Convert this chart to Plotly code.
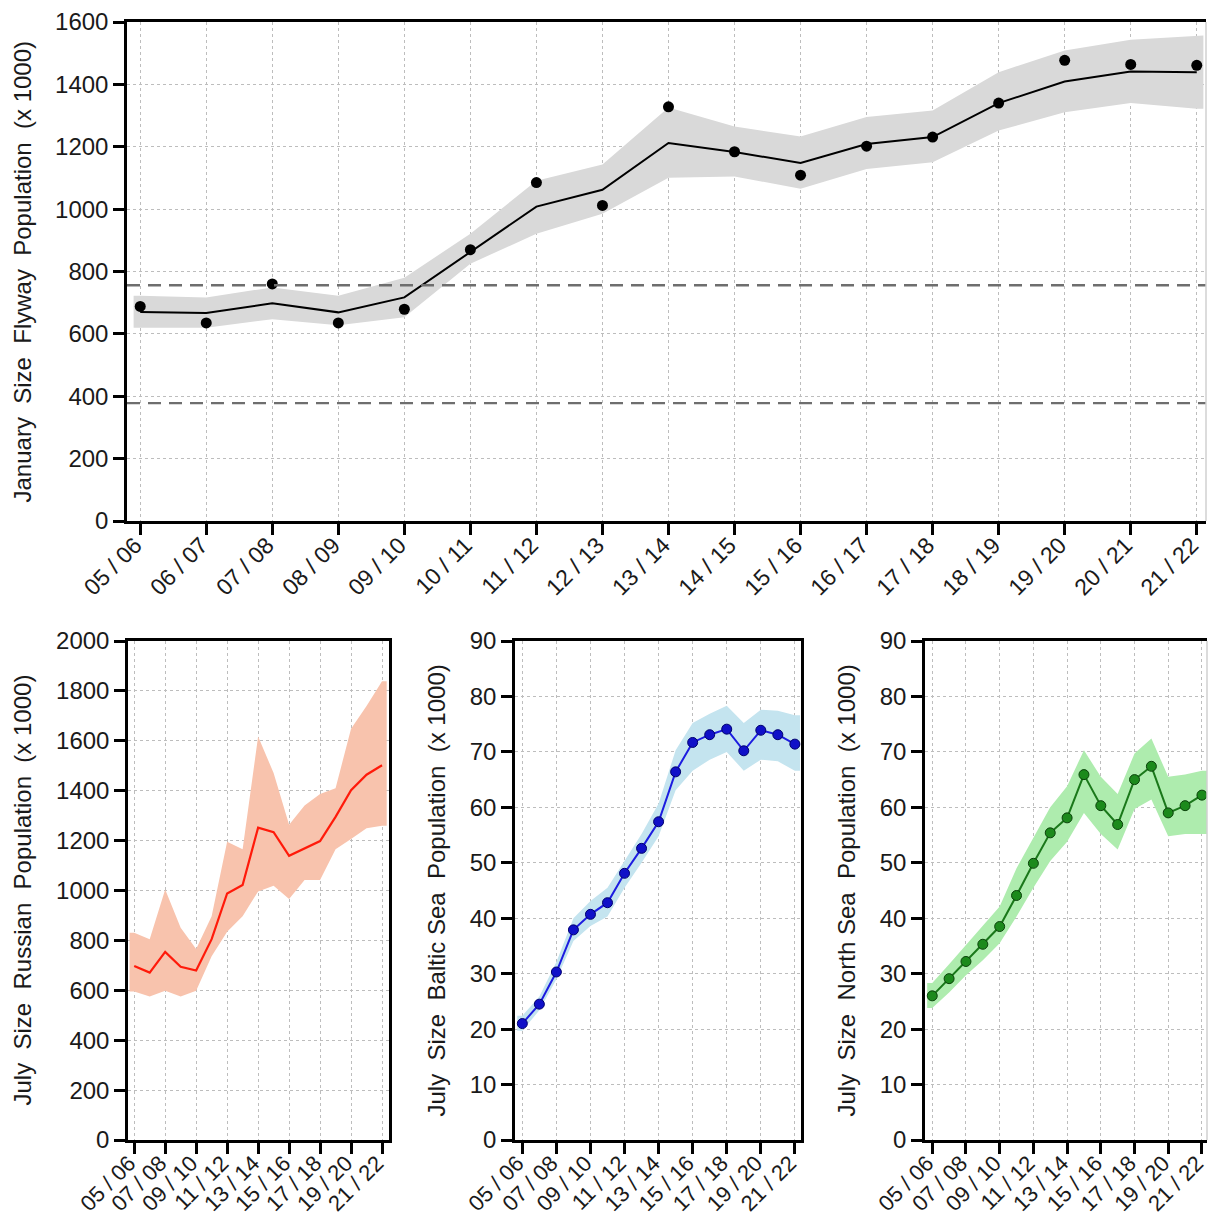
import plotly.graph_objects as go

# ---- data -------------------------------------------------------------
seasons = ["05 / 06", "06 / 07", "07 / 08", "08 / 09", "09 / 10", "10 / 11",
           "11 / 12", "12 / 13", "13 / 14", "14 / 15", "15 / 16", "16 / 17",
           "17 / 18", "18 / 19", "19 / 20", "20 / 21", "21 / 22"]

# January flyway population (x 1000)
jan_counts = [688, 635, 760, 635, 679, 870, 1085, 1012, 1328, 1184, 1109,
              1202, 1231, 1340, 1477, 1464, 1461]
jan_model = [670, 667, 698, 669, 717, 862, 1008, 1062, 1212, 1183, 1148,
             1209, 1231, 1340, 1409, 1441, 1439]
jan_lower = [620, 620, 647, 628, 653, 825, 921, 985, 1101, 1105, 1065,
             1129, 1150, 1252, 1311, 1340, 1322]
jan_upper = [722, 717, 749, 722, 780, 921, 1091, 1143, 1326, 1265, 1233,
             1295, 1316, 1439, 1509, 1543, 1557]
jan_reference_levels = [756, 378]

# July Russian population (x 1000)
rus_model = [697, 671, 754, 694, 679, 805, 988, 1022, 1252, 1234, 1139,
             1169, 1198, 1295, 1402, 1464, 1502]
rus_lower = [595, 575, 598, 575, 598, 736, 835, 897, 996, 1019, 966,
             1042, 1042, 1165, 1206, 1249, 1260]
rus_upper = [831, 805, 1004, 851, 766, 897, 1195, 1165, 1617, 1471, 1264,
             1341, 1387, 1410, 1648, 1739, 1839]

# July Baltic Sea population (x 1000)
bal_counts = [21.0, 24.5, 30.3, 37.9, 40.7, 42.8, 48.1, 52.6, 57.4, 66.4,
              71.7, 73.1, 74.1, 70.2, 73.9, 73.1, 71.4]
bal_lower = [19.7, 23.4, 29.0, 35.9, 38.6, 40.3, 45.5, 50.0, 54.8, 63.1,
             66.6, 68.6, 70.0, 66.6, 68.6, 68.3, 66.6]
bal_upper = [22.4, 25.9, 32.1, 40.0, 43.1, 45.5, 50.3, 55.2, 60.7, 70.3,
             75.2, 76.9, 78.3, 75.2, 77.6, 77.4, 76.6]

# July North Sea population (x 1000)
ns_counts = [26.0, 29.1, 32.2, 35.3, 38.5, 44.1, 49.9, 55.4, 58.1, 65.9,
             60.3, 56.9, 65.0, 67.4, 59.0, 60.3, 62.2]
ns_lower = [23.8, 26.6, 29.7, 32.4, 35.5, 40.3, 45.5, 50.3, 53.8, 59.0,
            55.2, 52.4, 59.7, 61.4, 54.8, 55.2, 55.2]
ns_upper = [28.3, 31.7, 35.2, 38.6, 42.1, 49.0, 54.5, 60.0, 63.8, 70.3,
            65.5, 62.4, 69.7, 72.4, 65.5, 65.9, 66.6]

# ---- helpers ----------------------------------------------------------
W, H = 1216, 1220
FONT = "Liberation Sans, Arial, sans-serif"
TXT = "#1a1a1a"
idx = list(range(len(seasons)))


def band(lower, upper, pad):
    """Closed polygon for a confidence ribbon, stretched slightly past the ends."""
    bx = [idx[0] - pad] + idx + [idx[-1] + pad]
    up = [upper[0]] + upper + [upper[-1]]
    lo = [lower[0]] + lower + [lower[-1]]
    return bx + bx[::-1], up + lo[::-1]


def px_x(p):
    return p / W


def px_y(p):
    return 1 - p / H


fig = go.Figure()

# ---- top panel: January flyway ---------------------------------------
bx, by = band(jan_lower, jan_upper, 0.1)
fig.add_trace(go.Scatter(x=bx, y=by, fill="toself", fillcolor="#d9d9d9",
                         line=dict(width=0), mode="lines", hoverinfo="skip",
                         xaxis="x", yaxis="y", showlegend=False))
for lvl in jan_reference_levels:
    fig.add_shape(type="line", xref="x domain", yref="y", x0=0, x1=1,
                  y0=lvl, y1=lvl,
                  line=dict(color="#6e6e6e", width=2.4, dash="13px,8px"))
fig.add_trace(go.Scatter(x=idx, y=jan_model, mode="lines",
                         line=dict(color="black", width=2),
                         xaxis="x", yaxis="y", showlegend=False))
fig.add_trace(go.Scatter(x=idx, y=jan_counts, mode="markers",
                         marker=dict(color="black", size=11),
                         xaxis="x", yaxis="y", showlegend=False))

# ---- bottom-left: Russian ---------------------------------------------
bx, by = band(rus_lower, rus_upper, 0.3)
fig.add_trace(go.Scatter(x=bx, y=by, fill="toself", fillcolor="#f8c3ad",
                         line=dict(width=0), mode="lines", hoverinfo="skip",
                         xaxis="x2", yaxis="y2", showlegend=False))
fig.add_trace(go.Scatter(x=idx, y=rus_model, mode="lines",
                         line=dict(color="#ff1a0a", width=2.2),
                         xaxis="x2", yaxis="y2", showlegend=False))

# ---- bottom-middle: Baltic Sea ----------------------------------------
bx, by = band(bal_lower, bal_upper, 0.3)
fig.add_trace(go.Scatter(x=bx, y=by, fill="toself", fillcolor="#c4e4ef",
                         line=dict(width=0), mode="lines", hoverinfo="skip",
                         xaxis="x3", yaxis="y3", showlegend=False))
fig.add_trace(go.Scatter(x=idx, y=bal_counts, mode="lines+markers",
                         line=dict(color="#1c1ce0", width=2),
                         marker=dict(color="#1010c8", size=10,
                                     line=dict(color="#00006e", width=1)),
                         xaxis="x3", yaxis="y3", showlegend=False))

# ---- bottom-right: North Sea ------------------------------------------
bx, by = band(ns_lower, ns_upper, 0.3)
fig.add_trace(go.Scatter(x=bx, y=by, fill="toself", fillcolor="#aeecae",
                         line=dict(width=0), mode="lines", hoverinfo="skip",
                         xaxis="x4", yaxis="y4", showlegend=False))
fig.add_trace(go.Scatter(x=idx, y=ns_counts, mode="lines+markers",
                         line=dict(color="#1a781a", width=2),
                         marker=dict(color="#1c8a1c", size=10,
                                     line=dict(color="#0a420a", width=1)),
                         xaxis="x4", yaxis="y4", showlegend=False))

# ---- axes ---------------------------------------------------------------
grid = dict(showgrid=True, gridcolor="#bdbdbd", gridwidth=1, griddash="dot",
            zeroline=False, showline=True, linecolor="black", linewidth=2.5,
            ticks="outside", ticklen=11, tickwidth=2.5, tickcolor="black",
            automargin=False,
            tickfont=dict(family=FONT, size=24, color=TXT))


def xaxis(domain, rng, step, mirror, anchor, size):
    d = dict(grid)
    d.update(domain=domain, range=rng, anchor=anchor,
             tickvals=idx[::step], ticktext=seasons[::step], tickangle=-45,
             mirror=mirror, ticklabelstandoff=-12, ticklabelshift=-5)
    d["tickfont"] = dict(family=FONT, size=size, color=TXT)
    return d


def yaxis(domain, rng, dtick, mirror, anchor):
    d = dict(grid)
    d.update(domain=domain, range=rng, dtick=dtick, anchor=anchor,
             mirror=mirror)
    return d


top_y = [px_y(521), px_y(22)]
bot_y = [px_y(1140), px_y(641)]

fig.update_layout(
    width=W, height=H, margin=dict(l=0, r=0, t=0, b=0),
    paper_bgcolor="white", plot_bgcolor="white",
    font=dict(family=FONT, color=TXT),
    xaxis=xaxis([px_x(127), px_x(1206)], [-0.2, 16.14], 1, True, "y", 23),
    yaxis=yaxis(top_y, [0, 1600], 200, False, "x"),
    xaxis2=xaxis([px_x(128), px_x(389)], [-0.4, 16.45], 2, True, "y2", 22),
    yaxis2=yaxis(bot_y, [0, 2000], 200, True, "x2"),
    xaxis3=xaxis([px_x(515), px_x(801)], [-0.43, 16.36], 2, True, "y3", 22),
    yaxis3=yaxis(bot_y, [0, 90], 10, True, "x3"),
    xaxis4=xaxis([px_x(925), px_x(1207)], [-0.43, 16.3], 2, True, "y4", 22),
    yaxis4=yaxis(bot_y, [0, 90], 10, False, "x4"),
)

# light right-hand frame edge on the top and North Sea panels
for xr, yr in (("x", "y"), ("x4", "y4")):
    fig.add_shape(type="line", xref=f"{xr} domain", yref=f"{yr} domain",
                  x0=1, x1=1, y0=0, y1=1,
                  line=dict(color="#d0d0d0", width=1.5))

# y-axis titles
sp = "\u00a0 "
titles = [
    (22, top_y, f"January{sp}Size{sp}Flyway{sp}Population{sp}(x 1000)"),
    (22, bot_y, f"July{sp}Size{sp}Russian{sp}Population{sp}(x 1000)"),
    (436, bot_y, f"July{sp}Size{sp}Baltic Sea{sp}Population{sp}(x 1000)"),
    (846, bot_y, f"July{sp}Size{sp}North Sea{sp}Population{sp}(x 1000)"),
]
for xp, dom, text in titles:
    fig.add_annotation(x=px_x(xp), y=(dom[0] + dom[1]) / 2, xref="paper",
                       yref="paper", text=text, textangle=-90,
                       showarrow=False, xanchor="center", yanchor="middle",
                       font=dict(family=FONT, size=24, color=TXT))

fig.write_html("out.html")
